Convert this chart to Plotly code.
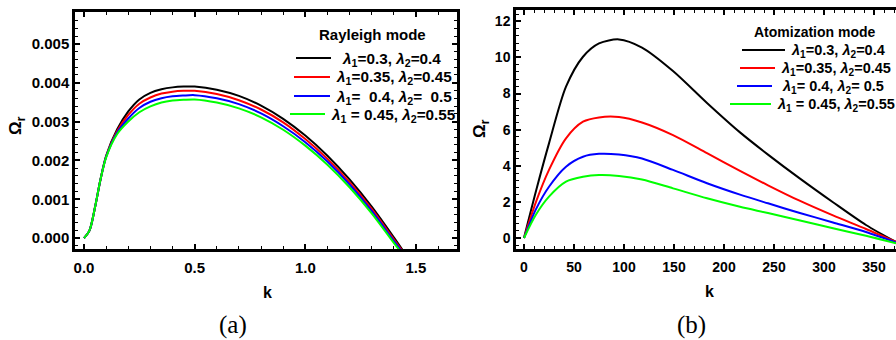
import plotly.graph_objects as go

# ---------------- data ----------------
labels = [
    "<b><i>λ</i><sub>1</sub>=0.3, <i>λ</i><sub>2</sub>=0.4</b>",
    "<b><i>λ</i><sub>1</sub>=0.35, <i>λ</i><sub>2</sub>=0.45</b>",
    "<b><i>λ</i><sub>1</sub>=\u00a0 0.4, <i>λ</i><sub>2</sub>=\u00a0 0.5</b>",
    "<b><i>λ</i><sub>1</sub> = 0.45, <i>λ</i><sub>2</sub>=0.55</b>",
]
labels_b = [
    "<b><i>λ</i><sub>1</sub>=0.3, <i>λ</i><sub>2</sub>=0.4</b>",
    "<b><i>λ</i><sub>1</sub>=0.35, <i>λ</i><sub>2</sub>=0.45</b>",
    "<b><i>λ</i><sub>1</sub>= 0.4, <i>λ</i><sub>2</sub>= 0.5</b>",
    "<b><i>λ</i><sub>1</sub> = 0.45, <i>λ</i><sub>2</sub>=0.55</b>",
]
legend_titles = ["<b>Rayleigh mode</b>", "<b>Atomization mode</b>"]
colors = ["#000000", "#ff0000", "#0000ff", "#00ff00"]

# Rayleigh mode (panel a)
k_a = [0, 0.025, 0.05, 0.075, 0.1, 0.15, 0.2, 0.25, 0.3, 0.35, 0.4, 0.45,
       0.5, 0.6, 0.7, 0.8, 0.9, 1.0, 1.1, 1.2, 1.3, 1.4, 1.44]
ray_black = [0, 0.0002, 0.0008, 0.00152, 0.00212, 0.0028, 0.00326, 0.00357,
             0.00374, 0.00383, 0.00388, 0.0039, 0.0039, 0.00382, 0.00366,
             0.00341, 0.00307, 0.00264, 0.00212, 0.00151, 0.00081, 0.00002,
             -0.00031]
ray_red = [0, 0.0002, 0.0008, 0.00152, 0.0021, 0.00276, 0.00317, 0.00346,
           0.00362, 0.00372, 0.00377, 0.00379, 0.00379, 0.00371, 0.00355,
           0.00331, 0.00298, 0.00255, 0.00204, 0.00144, 0.00075, -0.00003,
           -0.00034]
ray_blue = [0, 0.0002, 0.0008, 0.00152, 0.00209, 0.00272, 0.00308, 0.00335,
            0.00351, 0.0036, 0.00365, 0.00367, 0.00368, 0.0036, 0.00345,
            0.00321, 0.00288, 0.00247, 0.00197, 0.00138, 0.0007, -0.00007,
            -0.00037]
ray_green = [0, 0.0002, 0.0008, 0.00152, 0.00208, 0.00268, 0.003, 0.00324,
             0.00339, 0.00349, 0.00354, 0.00356, 0.00357, 0.00349, 0.00334,
             0.00311, 0.00279, 0.00238, 0.00189, 0.00131, 0.00064, -0.00012,
             -0.00042]

# Atomization mode (panel b)
k_b = [0, 12, 25, 42, 59, 75, 95, 118, 149, 183, 216, 244, 275, 309, 342, 372]
atom_black = [0, 2.6, 5.24, 8.38, 10.04, 10.78, 11.0, 10.55, 9.25, 7.48, 5.85,
              4.62, 3.33, 1.98, 0.72, -0.22]
atom_red = [0, 2.0, 3.77, 5.52, 6.44, 6.68, 6.70, 6.40, 5.70, 4.70, 3.72,
            2.92, 2.08, 1.25, 0.50, -0.22]
atom_blue = [0, 1.6, 2.84, 3.95, 4.50, 4.66, 4.62, 4.40, 3.77, 3.03, 2.40,
             1.92, 1.40, 0.86, 0.33, -0.25]
atom_green = [0, 1.3, 2.29, 3.12, 3.39, 3.49, 3.44, 3.24, 2.75, 2.20, 1.73,
              1.38, 0.98, 0.54, 0.12, -0.30]

ray_series = [ray_black, ray_red, ray_blue, ray_green]
atom_series = [atom_black, atom_red, atom_blue, atom_green]

# ---------------- figure ----------------
W, H = 896, 340
FONT = "Liberation Sans"


def px_x(p):
    return p / W


def px_y(p):
    return 1 - p / H


fig = go.Figure()

for ys, c in zip(ray_series, colors):
    fig.add_trace(go.Scatter(x=k_a, y=ys, mode="lines", showlegend=False,
                             line=dict(color=c, width=2, shape="spline", smoothing=0.8),
                             xaxis="x", yaxis="y"))
for ys, c in zip(atom_series, colors):
    fig.add_trace(go.Scatter(x=k_b, y=ys, mode="lines", showlegend=False,
                             line=dict(color=c, width=2, shape="spline", smoothing=0.8),
                             xaxis="x2", yaxis="y2"))


def axis_common(size):
    return dict(showline=True, linecolor="black", linewidth=2.5, ticks="inside",
                ticklen=5, tickwidth=1.5, tickcolor="black", showgrid=False,
                zeroline=False,
                tickfont=dict(family=FONT, size=size, color="black", weight="bold"))


def minor(dt):
    return dict(dtick=dt, ticks="inside", ticklen=3, tickwidth=1.2,
                tickcolor="black", showgrid=False)


fig.update_layout(
    width=W, height=H, margin=dict(l=0, r=0, t=0, b=0),
    paper_bgcolor="white", plot_bgcolor="white", showlegend=False,
    xaxis=dict(domain=[px_x(75), px_x(457)], range=[-0.0407, 1.6855],
               tick0=0, dtick=0.5, tickformat=".1f", mirror="allticks",
               minor=minor(0.1), anchor="y", ticklabelstandoff=3,
               **axis_common(15)),
    yaxis=dict(domain=[px_y(249), px_y(12)], range=[-0.00028, 0.00582],
               tick0=0, dtick=0.001, tickformat=".3f", mirror="allticks",
               minor=minor(0.0002), anchor="x", **axis_common(15)),
    xaxis2=dict(domain=[px_x(516), 1.0], range=[-8, 372],
                tick0=0, dtick=50, mirror="allticks", minor=minor(10),
                anchor="y2", ticklabelstandoff=3, **axis_common(14)),
    yaxis2=dict(domain=[px_y(249), px_y(10)], range=[-0.61, 12.63],
                tick0=0, dtick=2, mirror=False, minor=minor(0.4),
                anchor="x2", **axis_common(14)),
)

# ---------------- legends (drawn as layout decorations) ----------------
shapes = []
annotations = []

leg_a = dict(title_xy=(372, 35), size=15, isize=15.3,
             rows=[(296, 331, 340, 58), (294, 330, 334, 77),
                   (294, 330, 334, 96), (290, 325, 329, 114)])
leg_b = dict(title_xy=(815, 32), size=14, isize=14.5,
             rows=[(742, 785, 789, 50), (740, 775, 779, 68),
                   (737, 772, 780, 86), (730, 771, 775, 104)])

for leg, title, labs in [(leg_a, legend_titles[0], labels),
                         (leg_b, legend_titles[1], labels_b)]:
    tx, ty = leg["title_xy"]
    annotations.append(dict(text=title, x=px_x(tx), y=px_y(ty),
                            xanchor="center", yanchor="middle",
                            font=dict(family=FONT, size=leg["size"], color="black")))
    for (x0, x1, xt, yy), c, lab in zip(leg["rows"], colors, labs):
        shapes.append(dict(type="line", xref="paper", yref="paper",
                           x0=px_x(x0), x1=px_x(x1), y0=px_y(yy), y1=px_y(yy),
                           line=dict(color=c, width=2)))
        annotations.append(dict(text=lab, x=px_x(xt), y=px_y(yy + 1),
                                xanchor="left", yanchor="middle",
                                font=dict(family=FONT, size=leg["isize"], color="black")))

ann_font = dict(family=FONT, size=17, color="black")
serif = dict(family="Liberation Serif", size=25, color="black")
annotations += [
    dict(text="<b>Ω<sub>r</sub></b>", x=px_x(17), y=px_y(126), textangle=-90,
         font=ann_font, xanchor="center", yanchor="middle"),
    dict(text="<b>Ω<sub>r</sub></b>", x=px_x(481), y=px_y(128), textangle=-90,
         font=ann_font, xanchor="center", yanchor="middle"),
    dict(text="<b>k</b>", x=px_x(267), y=px_y(292), font=dict(family=FONT, size=16, color="black"),
         xanchor="center", yanchor="middle"),
    dict(text="<b>k</b>", x=px_x(709), y=px_y(291), font=dict(family=FONT, size=16, color="black"),
         xanchor="center", yanchor="middle"),
    dict(text="(a)", x=px_x(233), y=px_y(325), font=serif,
         xanchor="center", yanchor="middle"),
    dict(text="(b)", x=px_x(691), y=px_y(325), font=serif,
         xanchor="center", yanchor="middle"),
]
for a in annotations:
    a.update(xref="paper", yref="paper", showarrow=False)

fig.update_layout(shapes=shapes, annotations=annotations)

fig.write_html("out.html")
